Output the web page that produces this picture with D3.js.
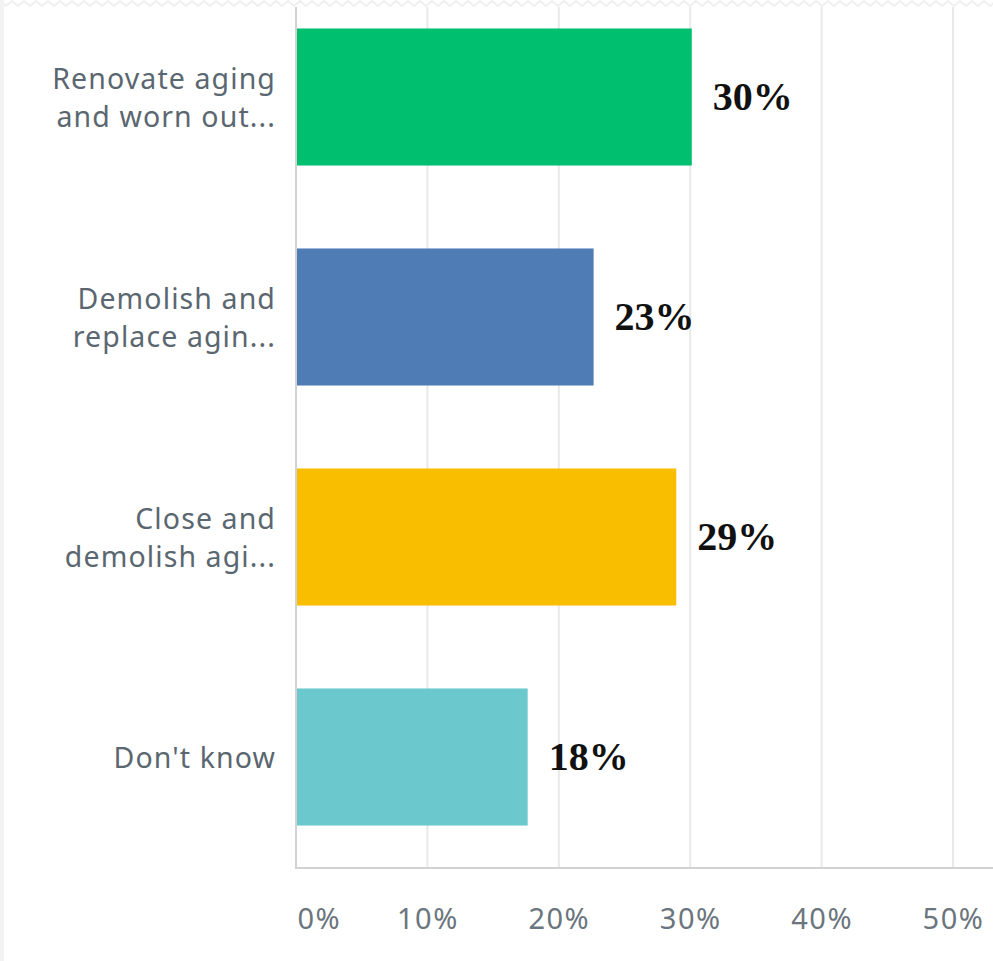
<!DOCTYPE html>
<html>
<head>
<meta charset="utf-8">
<script src="https://cdn.jsdelivr.net/npm/d3@7/dist/d3.min.js"></script>
<style>
  html, body { margin: 0; padding: 0; background: #ffffff; }
  svg { display: block; }
</style>
</head>
<body>
<svg id="chart" width="993" height="961"></svg>
<script>
// Survey answers: share of respondents per option
const categories = [
  "Renovate aging and worn out...",
  "Demolish and replace agin...",
  "Close and demolish agi...",
  "Don't know"
];
const categoryLines = [
  ["Renovate aging", "and worn out..."],
  ["Demolish and", "replace agin..."],
  ["Close and", "demolish agi..."],
  ["Don't know"]
];
const values = [0.3012, 0.2265, 0.2894, 0.1763];
const barColors = ["#00bf6f", "#507cb6", "#f9be00", "#6bc8cd"];
const tickValues = [0, 0.1, 0.2, 0.3, 0.4, 0.5];
const tickLabels = ["0%", "10%", "20%", "30%", "40%", "50%"];

const svg = d3.select("#chart");
const W = 993, H = 961;

const x = d3.scaleLinear().domain([0, 0.5]).range([296, 953]);
const y = d3.scaleBand()
  .domain(categories)
  .range([-13, 867])
  .paddingInner(0.377)
  .paddingOuter(0.1885);

const plotTop = 7, plotBottom = 868;

// torn top edge
const zig = [];
for (let px = 0; px <= W + 6; px += 6) zig.push([px, (px / 6) % 2 === 0 ? 1 : 6]);
svg.append("path")
  .attr("d", d3.line()(zig))
  .attr("fill", "none")
  .attr("stroke", "#efefef")
  .attr("stroke-width", 2);
svg.append("line")
  .attr("x1", 2).attr("x2", 2).attr("y1", 0).attr("y2", H)
  .attr("stroke", "#f3f3f3").attr("stroke-width", 4);

// vertical gridlines
svg.append("g").selectAll("line")
  .data(tickValues.slice(1))
  .join("line")
  .attr("x1", d => x(d)).attr("x2", d => x(d))
  .attr("y1", plotTop).attr("y2", plotBottom)
  .attr("stroke", "#e9e9e9")
  .attr("stroke-width", 2);

// bars
svg.append("g").selectAll("rect")
  .data(values)
  .join("rect")
  .attr("x", x(0))
  .attr("y", (d, i) => y(categories[i]))
  .attr("width", d => x(d) - x(0))
  .attr("height", y.bandwidth())
  .attr("fill", (d, i) => barColors[i]);

// axis lines
svg.append("line")
  .attr("x1", x(0)).attr("x2", x(0))
  .attr("y1", plotTop).attr("y2", plotBottom + 1)
  .attr("stroke", "#d2d2d2").attr("stroke-width", 2);
svg.append("line")
  .attr("x1", x(0) - 1).attr("x2", W)
  .attr("y1", plotBottom).attr("y2", plotBottom)
  .attr("stroke", "#d2d2d2").attr("stroke-width", 2);

// x tick labels
const xAxis = d3.axisBottom(x)
  .tickValues(tickValues)
  .tickFormat((d, i) => tickLabels[i])
  .tickSize(0)
  .tickPadding(0);
const gx = svg.append("g")
  .attr("transform", `translate(0, ${929})`)
  .call(xAxis);
gx.select(".domain").remove();
gx.selectAll("text")
  .attr("dy", 0)
  .attr("y", 0)
  .attr("font-family", "'Noto Sans', sans-serif")
  .attr("font-size", 29)
  .attr("letter-spacing", 1.5)
  .attr("fill", "#6b757d")
  .attr("text-anchor", (d, i) => i === 0 ? "start" : "middle")
  .attr("x", (d, i) => i === 0 ? 1 : 0);

// category labels
const catG = svg.append("g");
categoryLines.forEach((lines, i) => {
  const c = y(categories[i]) + y.bandwidth() / 2;
  const t = catG.append("text")
    .attr("text-anchor", "end")
    .attr("font-family", "'Noto Sans', sans-serif")
    .attr("font-size", 28.5)
    .attr("letter-spacing", 1.1)
    .attr("fill", "#5b6770");
  const first = lines.length === 1 ? c + 10.5 : c - 8;
  lines.forEach((ln, j) => {
    t.append("tspan")
      .attr("x", 276)
      .attr("y", first + j * 38)
      .text(ln);
  });
});

// value labels
svg.append("g").selectAll("text")
  .data(values)
  .join("text")
  .attr("x", d => x(d) + 21)
  .attr("y", (d, i) => y(categories[i]) + y.bandwidth() / 2 + 13)
  .attr("font-family", "'Liberation Serif', serif")
  .attr("font-weight", "bold")
  .attr("font-size", 40)
  .attr("fill", "#111111")
  .text(d => d3.format(".0%")(d));
</script>
</body>
</html>
